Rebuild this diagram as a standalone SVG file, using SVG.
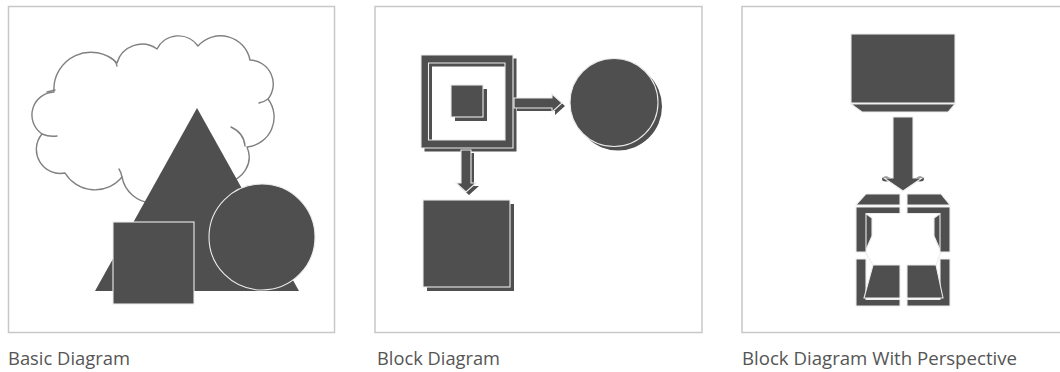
<svg xmlns="http://www.w3.org/2000/svg" xmlns:xlink="http://www.w3.org/1999/xlink" width="1060" height="372" viewBox="0 0 1060 372">
  <style>
    .panel { fill: #ffffff; stroke: #c8c8c8; stroke-width: 1.5; }
    .caption { font-family: "Open Sans", "Noto Sans", "Liberation Sans", sans-serif; font-size: 17.5px; fill: #555555; }
    .cloud { fill: #ffffff; stroke: #808080; stroke-width: 1.4; stroke-linejoin: round; }
    .tick { fill: none; stroke: #808080; stroke-width: 1.4; stroke-linecap: round; }
    .dark { fill: #4f4f4f; }
    .shade { fill: #4f4f4f; }
    .solid { fill: #4f4f4f; stroke: #ececec; stroke-width: 1.1; stroke-linejoin: miter; }
    .line { fill: none; stroke: #ececec; stroke-width: 1.1; }
  </style>

  <defs>
    <!-- reusable outlines for the bevelled shapes -->
    <path id="frame" fill-rule="evenodd" d="M421,55 H513 V148 H421 Z M428.5,63 V140 H505 V63 Z"/>
    <rect id="inner-square" x="451" y="85" width="32" height="32"/>
    <circle id="round" cx="614" cy="102.5" r="44"/>
    <path id="arrow-right" d="M514,98 H552 V94 L562,103 L552,112 V108 H514 Z"/>
    <path id="arrow-down" d="M461,150 H471 V183 H476 L466,192 L456,183 H461 Z"/>
    <rect id="big-square" x="423" y="200" width="87" height="87"/>
  </defs>

  <!-- panel frames -->
  <g id="panels">
    <rect class="panel" x="8.5" y="6.5" width="326" height="326"/>
    <rect class="panel" x="375" y="6.5" width="327" height="326"/>
    <rect class="panel" x="742" y="6.5" width="330" height="326"/>
  </g>

  <!-- Basic diagram: cloud, triangle, square, circle -->
  <g id="basic">
    <g id="cloud">
      <path class="cloud" d="M54,92 A37,37 0 0 1 117,63 A26,26 0 0 1 157,49 A24,24 0 0 1 198,46 A30,30 0 0 1 250,60 A24,24 0 0 1 268,99 A30,30 0 0 1 247,147 A25,25 0 0 1 226,182 L160,210 L152,203 A32,32 0 0 1 122,177 A35,35 0 0 1 65,173 A24,24 0 0 1 42,134 A23,23 0 0 1 54,92 Z"/>
      <path class="tick" d="M42,134 Q49,137 57,136"/>
      <path class="tick" d="M122,177 Q121,172 119,169"/>
      <path class="tick" d="M111,58 Q116,61 117,66"/>
      <path class="tick" d="M231,127 Q244,133 245,146"/>
      <path class="tick" d="M268,99 Q264,102 259,103"/>
      <path class="tick" d="M47,92 L55,90"/>
    </g>
    <polygon id="triangle" class="dark" points="197,108 299,291 95,291"/>
    <rect id="square" class="solid" x="113" y="222" width="81" height="82"/>
    <circle id="circle" class="solid" cx="262" cy="237" r="53"/>
  </g>

  <!-- Block diagram -->
  <g id="block">
    <g id="block-frame">
      <use xlink:href="#frame" class="shade" transform="translate(3.5,3.5)"/>
      <use xlink:href="#frame" class="solid"/>
    </g>
    <g id="block-inner">
      <use xlink:href="#inner-square" class="shade" transform="translate(4,4)"/>
      <use xlink:href="#inner-square" class="solid"/>
    </g>
    <g id="block-circle">
      <use xlink:href="#round" class="shade" transform="translate(4,4)"/>
      <use xlink:href="#round" class="solid"/>
    </g>
    <g id="block-square">
      <use xlink:href="#big-square" class="shade" transform="translate(4,4)"/>
      <use xlink:href="#big-square" class="solid"/>
    </g>
    <g id="block-connectors">
      <use xlink:href="#arrow-right" class="shade" transform="translate(3,3)"/>
      <use xlink:href="#arrow-right" class="solid"/>
      <use xlink:href="#arrow-down" class="shade" transform="translate(3,3)"/>
      <use xlink:href="#arrow-down" class="solid"/>
    </g>
  </g>

  <!-- Block diagram with perspective -->
  <g id="perspective">
    <g id="top-block">
      <rect class="solid" x="851" y="34" width="104" height="69"/>
      <polygon class="solid" points="851,104 955,104 948,112 862,112"/>
    </g>
    <g id="perspective-connector">
      <ellipse class="dark" cx="886" cy="179" rx="4" ry="2.5"/>
      <ellipse class="dark" cx="920" cy="179" rx="4" ry="2.5"/>
      <polygon class="solid" points="893,117 913,117 913,178 922,178 903,191 884,178 893,178"/>
    </g>
    <g id="open-box">
      <!-- lid -->
      <polygon class="solid" points="856,205 866,194 900,194 900,205"/>
      <polygon class="solid" points="907,194 941,194 950,205 907,205"/>
      <!-- inner walls -->
      <polygon class="solid" points="865,213 872,218 872,236 865,252"/>
      <polygon class="solid" points="941,213 934,218 934,236 941,252"/>
      <!-- front frame -->
      <path class="solid" d="M856,207 H900 V213.5 H866 V252 H856 Z"/>
      <path class="solid" d="M907,207 H950 V252 H940 V213.5 H907 Z"/>
      <path class="solid" d="M856,259 H866 V299.5 H900 V306 H856 Z"/>
      <path class="solid" d="M950,259 H940 V299.5 H907 V306 H950 Z"/>
      <!-- floor -->
      <polygon class="solid" points="873,265 900,265 900,298 864,298"/>
      <polygon class="solid" points="907,265 936,265 943,298 907,298"/>
      <polyline class="line" points="865,252 873,265"/>
      <polyline class="line" points="941,252 936,265"/>
    </g>
  </g>

  <!-- captions -->
  <g id="captions">
    <text class="caption" x="8" y="365" textLength="122" lengthAdjust="spacingAndGlyphs">Basic Diagram</text>
    <text class="caption" x="377" y="365" textLength="123" lengthAdjust="spacingAndGlyphs">Block Diagram</text>
    <text class="caption" x="742" y="365" textLength="275" lengthAdjust="spacingAndGlyphs">Block Diagram With Perspective</text>
  </g>
</svg>
